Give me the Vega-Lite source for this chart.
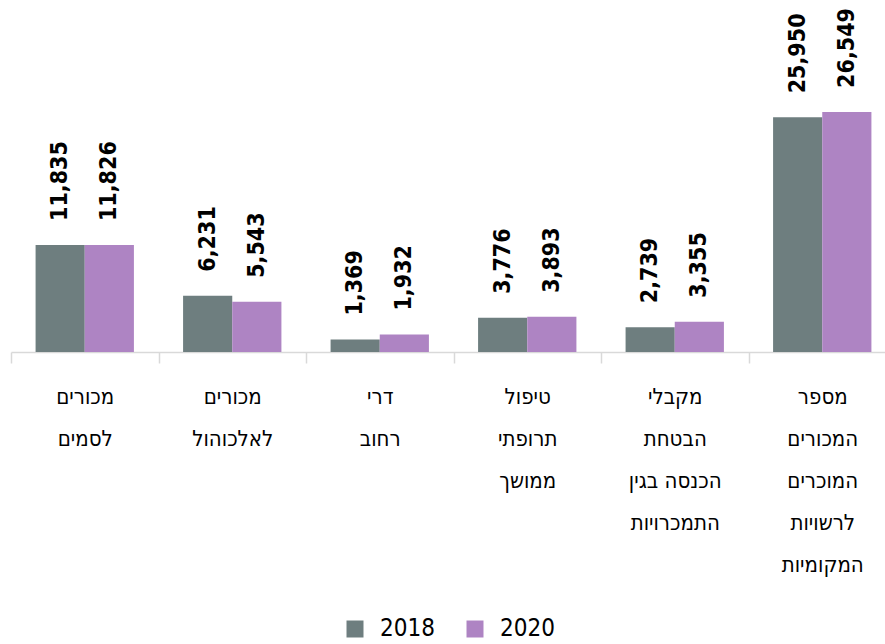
{
  "$schema": "https://vega.github.io/schema/vega-lite/v6.json",
  "autosize": {"type": "none"},
  "width": 874,
  "height": 352,
  "padding": {"left": 11, "top": 0, "right": 0, "bottom": 292},
  "background": "white",
  "config": {"view": {"stroke": null}},
  "data": {
    "values": [
      {"category": "מכורים|לסמים", "year": "2018", "value": 11835},
      {"category": "מכורים|לסמים", "year": "2020", "value": 11826},
      {"category": "מכורים|לאלכוהול", "year": "2018", "value": 6231},
      {"category": "מכורים|לאלכוהול", "year": "2020", "value": 5543},
      {"category": "דרי|רחוב", "year": "2018", "value": 1369},
      {"category": "דרי|רחוב", "year": "2020", "value": 1932},
      {"category": "טיפול|תרופתי|ממושך", "year": "2018", "value": 3776},
      {"category": "טיפול|תרופתי|ממושך", "year": "2020", "value": 3893},
      {"category": "מקבלי|הבטחת|הכנסה בגין|התמכרויות", "year": "2018", "value": 2739},
      {"category": "מקבלי|הבטחת|הכנסה בגין|התמכרויות", "year": "2020", "value": 3355},
      {"category": "מספר|המכורים|המוכרים|לרשויות|המקומיות", "year": "2018", "value": 25950},
      {"category": "מספר|המכורים|המוכרים|לרשויות|המקומיות", "year": "2020", "value": 26549}
    ]
  },
  "encoding": {
    "x": {
      "field": "category",
      "type": "nominal",
      "sort": null,
      "scale": {"paddingInner": 0, "paddingOuter": 0, "range": [0, 885]},
      "axis": {
        "title": null,
        "labelAngle": 0,
        "labelExpr": "isString(datum.value) ? split(datum.value, '|') : ''",
        "labelFont": "DejaVu Sans Condensed",
        "labelFontSize": 22,
        "labelColor": "#000000",
        "labelLineHeight": 42,
        "labelBaseline": "top",
        "labelPadding": 23,
        "labelLimit": 0,
        "tickBand": "extent",
        "tickSize": 11,
        "tickColor": "#d9d9d9",
        "tickWidth": 1.5,
        "domainColor": "#d9d9d9",
        "domainWidth": 1.5
      }
    },
    "xOffset": {
      "field": "year",
      "type": "nominal",
      "scale": {"paddingInner": 0, "paddingOuter": 0.5}
    },
    "y": {
      "field": "value",
      "type": "quantitative",
      "scale": {"domain": [0, 38920], "nice": false, "zero": true},
      "axis": null
    }
  },
  "layer": [
    {
      "mark": {"type": "bar"},
      "encoding": {
        "color": {
          "field": "year",
          "type": "nominal",
          "scale": {"domain": ["2018", "2020"], "range": ["#6e7e7f", "#ae84c3"]},
          "legend": {
            "title": null,
            "orient": "none",
            "legendX": 332,
            "legendY": 617,
            "direction": "horizontal",
            "symbolType": "square",
            "symbolSize": 289,
            "symbolStrokeWidth": 0,
            "labelFont": "DejaVu Sans Condensed",
            "labelFontSize": 24,
            "labelColor": "#000000",
            "labelOffset": 13,
            "columnPadding": 28
          }
        }
      }
    },
    {
      "mark": {
        "type": "text",
        "angle": 270,
        "align": "left",
        "baseline": "middle",
        "dx": 24,
        "font": "DejaVu Sans Condensed",
        "fontWeight": "bold",
        "fontSize": 23,
        "color": "#000000"
      },
      "encoding": {
        "text": {"field": "value", "type": "quantitative", "format": ","}
      }
    }
  ]
}
